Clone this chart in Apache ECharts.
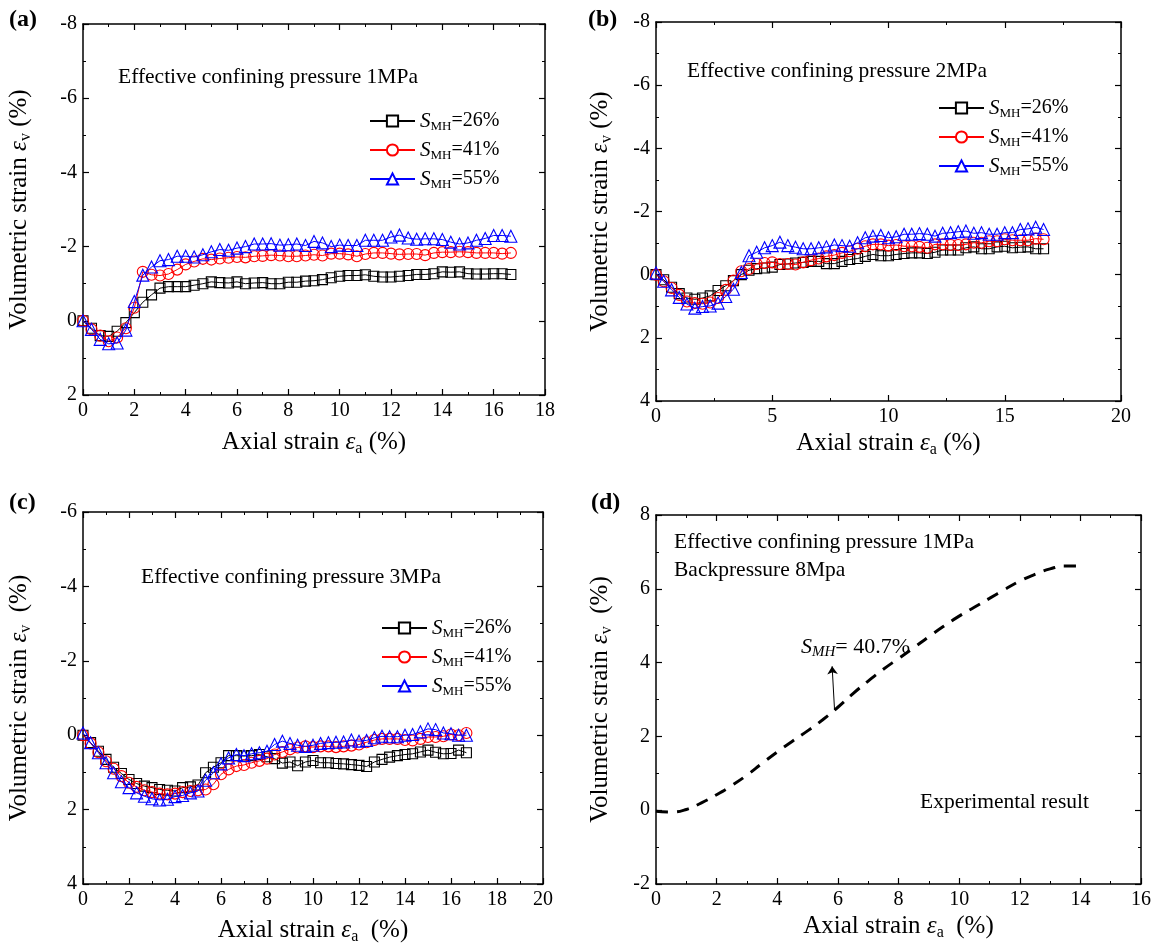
<!DOCTYPE html>
<html>
<head>
<meta charset="utf-8">
<script src="https://cdn.jsdelivr.net/npm/echarts@6.0.0/dist/echarts.min.js"></script>
<style>
html,body{margin:0;padding:0;background:#fff;}
#chart{width:1157px;height:948px;}
</style>
</head>
<body>
<div id="chart"></div>
<script>
// ---------------- DATA ----------------
// axial strain sample points (%) shared by panels a, b, c
const axialStrain = [0,0.33,0.67,1,1.33,1.67,2,2.33,2.67,3,3.33,3.67,4,4.33,4.67,5,5.33,5.67,6,6.33,6.67,7,7.33,7.67,8,8.33,8.67,9,9.33,9.67,10,10.33,10.67,11,11.33,11.67,12,12.33,12.67,13,13.33,13.67,14,14.33,14.67,15,15.33,15.67,16,16.33,16.67];

// Panel (a): effective confining pressure 1 MPa
const a_S26 = [0,0.2,0.4,0.42,0.28,0.05,-0.22,-0.5,-0.7,-0.88,-0.92,-0.92,-0.92,-0.96,-1.0,-1.05,-1.03,-1.02,-1.05,-1.0,-1.02,-1.03,-1.0,-1.0,-1.04,-1.04,-1.07,-1.08,-1.11,-1.16,-1.2,-1.22,-1.22,-1.24,-1.2,-1.18,-1.18,-1.2,-1.22,-1.25,-1.25,-1.27,-1.32,-1.31,-1.32,-1.27,-1.26,-1.26,-1.27,-1.27,-1.25];
const a_S41 = [0,0.23,0.4,0.55,0.45,0.2,-0.35,-1.32,-1.24,-1.22,-1.26,-1.38,-1.52,-1.6,-1.67,-1.65,-1.68,-1.7,-1.72,-1.71,-1.74,-1.75,-1.77,-1.76,-1.74,-1.74,-1.76,-1.78,-1.76,-1.81,-1.81,-1.79,-1.74,-1.8,-1.83,-1.83,-1.81,-1.79,-1.8,-1.8,-1.77,-1.83,-1.85,-1.85,-1.86,-1.85,-1.83,-1.83,-1.83,-1.81,-1.83];
const a_S55 = [0,0.23,0.5,0.62,0.6,0.25,-0.52,-1.23,-1.45,-1.62,-1.65,-1.74,-1.74,-1.72,-1.78,-1.86,-1.92,-1.9,-1.96,-2.0,-2.07,-2.07,-2.08,-2.04,-2.05,-2.07,-2.03,-2.14,-2.1,-2.0,-2.04,-2.03,-2.03,-2.17,-2.17,-2.17,-2.26,-2.31,-2.23,-2.2,-2.21,-2.21,-2.19,-2.12,-2.07,-2.1,-2.17,-2.22,-2.3,-2.3,-2.28];

// Panel (b): effective confining pressure 2 MPa
const b_S26 = [0,0.16,0.4,0.6,0.74,0.78,0.74,0.67,0.5,0.35,0.19,0,-0.14,-0.19,-0.21,-0.24,-0.32,-0.34,-0.37,-0.39,-0.42,-0.42,-0.35,-0.35,-0.42,-0.48,-0.51,-0.58,-0.64,-0.6,-0.6,-0.64,-0.67,-0.69,-0.69,-0.67,-0.71,-0.78,-0.78,-0.78,-0.85,-0.88,-0.82,-0.82,-0.88,-0.9,-0.85,-0.87,-0.88,-0.82,-0.82];
const b_S41 = [0,0.21,0.42,0.64,0.85,0.9,0.92,0.88,0.74,0.48,0.19,-0.11,-0.18,-0.34,-0.37,-0.39,-0.34,-0.34,-0.32,-0.39,-0.46,-0.51,-0.58,-0.62,-0.69,-0.74,-0.82,-0.9,-0.96,-0.96,-0.92,-0.94,-0.9,-0.9,-0.88,-0.85,-0.96,-0.96,-0.94,-0.94,-0.96,-1.01,-1.01,-1.06,-1.06,-1.12,-1.09,-1.09,-1.09,-1.14,-1.12];
const b_S55 = [-0.05,0.21,0.48,0.72,0.93,1.06,1.01,0.99,0.9,0.69,0.46,-0.07,-0.6,-0.71,-0.85,-0.92,-1.03,-0.92,-0.87,-0.82,-0.82,-0.85,-0.88,-0.94,-0.92,-0.9,-1.01,-1.17,-1.22,-1.24,-1.17,-1.2,-1.28,-1.28,-1.3,-1.28,-1.22,-1.31,-1.33,-1.36,-1.38,-1.31,-1.33,-1.28,-1.28,-1.33,-1.33,-1.43,-1.45,-1.5,-1.43];

// Panel (c): effective confining pressure 3 MPa
const c_S26 = [0,0.2,0.43,0.65,0.86,1.03,1.19,1.3,1.37,1.41,1.46,1.48,1.5,1.41,1.39,1.34,1.01,0.86,0.74,0.55,0.55,0.56,0.55,0.52,0.58,0.63,0.75,0.72,0.82,0.72,0.68,0.74,0.74,0.76,0.77,0.79,0.81,0.84,0.72,0.65,0.59,0.55,0.52,0.5,0.45,0.4,0.46,0.5,0.49,0.4,0.47];
const c_S41 = [0,0.22,0.46,0.7,0.9,1.1,1.28,1.39,1.48,1.53,1.57,1.59,1.57,1.53,1.5,1.48,1.46,1.32,1.05,0.92,0.83,0.8,0.74,0.69,0.63,0.52,0.45,0.38,0.33,0.3,0.32,0.3,0.3,0.32,0.3,0.28,0.25,0.19,0.13,0.1,0.1,0.1,0.13,0.14,0.1,0.05,0.05,0.03,-0.02,0,-0.06];
const c_S55 = [-0.06,0.2,0.47,0.74,1.01,1.25,1.41,1.55,1.64,1.71,1.74,1.72,1.65,1.62,1.55,1.5,1.21,1.01,0.77,0.61,0.52,0.55,0.5,0.47,0.43,0.25,0.16,0.22,0.27,0.3,0.27,0.22,0.2,0.19,0.18,0.13,0.16,0.14,0.07,0.03,0.04,0.04,0,-0.02,-0.09,-0.17,-0.15,-0.06,-0.04,0,0];

// Panel (d): experimental result, S_MH = 40.7 %
const d_axial = [0,0.5,1,1.5,2,2.5,3,3.5,4,4.5,5,5.5,6,6.5,7,7.5,8,8.5,9,9.5,10,10.5,11,11.5,12,12.5,13,13.5,14,14.1];
const d_volumetric = [-0.03,-0.05,0.02,0.2,0.42,0.67,0.95,1.27,1.58,1.87,2.15,2.45,2.79,3.16,3.5,3.82,4.11,4.4,4.7,4.99,5.26,5.5,5.74,5.98,6.21,6.39,6.54,6.62,6.62,6.62];

// Legend labels (saturation)
const saturationLabels = ['26%','41%','55%'];
// Panel texts
const panelLetters = ['(a)','(b)','(c)','(d)'];
const pressureTexts = ['Effective confining pressure 1MPa','Effective confining pressure 2MPa','Effective confining pressure 3MPa','Effective confining pressure 1MPa'];

// ---------------- STYLE / BUILD ----------------
const FONT = '"Liberation Serif","Times New Roman",serif';
const pairs = (xs, ys) => xs.map((x, i) => [x, ys[i]]);

const NAME_STYLE = {
  color:'#000', fontFamily:FONT, fontSize:25, lineHeight:30,
  rich:{
    t:{fontFamily:FONT, fontSize:25, color:'#000', lineHeight:30},
    e:{fontFamily:FONT, fontSize:25, color:'#000', fontStyle:'italic', lineHeight:30},
    s:{fontFamily:FONT, fontSize:16, color:'#000', verticalAlign:'bottom', lineHeight:12}
  }
};
const AXIS_LINE = {onZero:false, lineStyle:{color:'#000', width:1.5}};
const AXIS_TICK = {inside:true, length:6, lineStyle:{color:'#000', width:1.2}};
const MINOR_TICK = {show:true, splitNumber:2, length:3, lineStyle:{color:'#000', width:1}};

function makeX(gi, min, max, interval, name, nameGap){
  const base = {gridIndex:gi, type:'value', min, max, interval,
    axisLine:AXIS_LINE, axisTick:AXIS_TICK, minorTick:MINOR_TICK,
    splitLine:{show:false}, minorSplitLine:{show:false}};
  return [
    Object.assign({}, base, {position:'bottom',
      axisLabel:{color:'#000', fontFamily:FONT, fontSize:20, margin:6},
      name, nameLocation:'middle', nameGap, nameTextStyle:NAME_STYLE}),
    Object.assign({}, base, {position:'top', axisLabel:{show:false}})
  ];
}
function makeY(gi, min, max, interval, inverse, name, nameGap){
  const base = {gridIndex:gi, type:'value', min, max, interval, inverse,
    axisLine:AXIS_LINE, axisTick:AXIS_TICK, minorTick:MINOR_TICK,
    splitLine:{show:false}, minorSplitLine:{show:false}};
  return [
    Object.assign({}, base, {position:'left',
      axisLabel:{color:'#000', fontFamily:FONT, fontSize:20, margin:6},
      name, nameLocation:'middle', nameGap, nameTextStyle:NAME_STYLE}),
    Object.assign({}, base, {position:'right', axisLabel:{show:false}})
  ];
}

const grids = [
  {left:83, top:24, width:462, height:371},
  {left:656, top:22, width:465, height:379},
  {left:83, top:512, width:460, height:372},
  {left:656, top:515, width:485, height:369}
];

const yName1 = '{t|Volumetric strain }{e|ε}{s|v}{t| (%)}';
const yName2 = '{t|Volumetric strain }{e|ε}{s|v}{t|  (%)}';
const xName1 = '{t|Axial strain }{e|ε}{s|a}{t| (%)}';
const xName2 = '{t|Axial strain }{e|ε}{s|a}{t|  (%)}';

const xAxes = [].concat(
  makeX(0, 0, 18, 2, xName1, 32),
  makeX(1, 0, 20, 5, xName1, 27),
  makeX(2, 0, 20, 2, xName2, 31),
  makeX(3, 0, 16, 2, xName2, 27)
);
const yAxes = [].concat(
  makeY(0, -8, 2, 2, true, yName1, 49),
  makeY(1, -8, 4, 2, true, yName1, 41),
  makeY(2, -6, 4, 2, true, yName2, 49),
  makeY(3, -2, 8, 2, false, yName2, 41)
);

const MARKERS = [
  {symbol:'rect', size:10, color:'#000'},
  {symbol:'circle', size:11, color:'#ff0000'},
  {symbol:'triangle', size:12, color:'#0000ff'}
];
function scatterLine(name, gi, ys, k){
  const m = MARKERS[k];
  return {
    type:'line', name, xAxisIndex:gi*2, yAxisIndex:gi*2,
    data:pairs(axialStrain, ys),
    symbol:m.symbol, symbolSize:m.size, showAllSymbol:true,
    lineStyle:{color:m.color, width:1},
    itemStyle:{color:'rgba(255,255,255,0)', borderColor:m.color, borderWidth:1.1},
    emphasis:{disabled:true}, silent:true, z:2+k
  };
}

const series = [
  scatterLine('a26',0,a_S26,0), scatterLine('a41',0,a_S41,1), scatterLine('a55',0,a_S55,2),
  scatterLine('b26',1,b_S26,0), scatterLine('b41',1,b_S41,1), scatterLine('b55',1,b_S55,2),
  scatterLine('c26',2,c_S26,0), scatterLine('c41',2,c_S41,1), scatterLine('c55',2,c_S55,2),
  {
    type:'line', name:'exp', xAxisIndex:6, yAxisIndex:6,
    data:pairs(d_axial, d_volumetric), symbol:'none', smooth:true,
    lineStyle:{color:'#000', width:3, type:[12,9]},
    emphasis:{disabled:true}, silent:true,
    markLine:{
      silent:true, symbol:['none','arrow'], symbolSize:8, animation:false,
      label:{show:false},
      lineStyle:{color:'#000', width:1, type:'solid', curveness:0.25},
      data:[[{coord:[5.89,2.72]},{coord:[5.81,3.9]}]]
    }
  }
];

const LEG_TEXT = {
  color:'#000', fontFamily:FONT, fontSize:20, lineHeight:24,
  rich:{
    i:{fontFamily:FONT, fontSize:21, fontStyle:'italic', color:'#000', lineHeight:24},
    sub:{fontFamily:FONT, fontSize:13, color:'#000', verticalAlign:'bottom', lineHeight:12},
    n:{fontFamily:FONT, fontSize:20, color:'#000', lineHeight:24}
  }
};
function makeLegend(prefix, left, top){
  return {
    data:[prefix+'26', prefix+'41', prefix+'55'],
    orient:'vertical', left, top, padding:0, itemGap:5,
    itemWidth:45, itemHeight:14, selectedMode:false,
    itemStyle:{color:'#fff'},
    textStyle:LEG_TEXT,
    formatter:(nm)=>{
      const idx = ['26','41','55'].indexOf(nm.slice(1));
      return '{i|S}{sub|MH}{n|=' + saturationLabels[idx] + '}';
    }
  };
}

function txt(x, y, text, size, bold){
  return {type:'text', x, y, silent:true, style:{
    text, fill:'#000', fontFamily:FONT, fontSize:size, fontWeight:bold ? 'bold' : 'normal',
    verticalAlign:'middle', align:'left'
  }};
}
const graphic = [
  txt(9, 20, panelLetters[0], 24, true),
  txt(588, 20, panelLetters[1], 24, true),
  txt(9, 503, panelLetters[2], 24, true),
  txt(591, 503, panelLetters[3], 24, true),
  txt(118, 77, pressureTexts[0], 21.5),
  txt(687, 71, pressureTexts[1], 21.5),
  txt(141, 577, pressureTexts[2], 21.5),
  txt(674, 542, pressureTexts[3], 21.5),
  txt(674, 570, 'Backpressure 8Mpa', 21.5),
  txt(920, 802, 'Experimental result', 21.5),
  {type:'text', x:801, y:647, silent:true, style:{
    text:'{s|S}{m|MH}{n|= 40.7%}', fill:'#000', fontFamily:FONT, fontSize:22, verticalAlign:'middle',
    rich:{
      s:{fontFamily:FONT, fontSize:22, fontStyle:'italic', fill:'#000', lineHeight:26},
      m:{fontFamily:FONT, fontSize:15, fontStyle:'italic', fill:'#000', verticalAlign:'bottom', lineHeight:14},
      n:{fontFamily:FONT, fontSize:22, fill:'#000', lineHeight:26}
    }
  }}
];

const chart = echarts.init(document.getElementById('chart'), null, {renderer:'canvas'});
chart.setOption({
  animation:false,
  backgroundColor:'#fff',
  grid:grids,
  xAxis:xAxes,
  yAxis:yAxes,
  legend:[makeLegend('a',369,109), makeLegend('b',938,96), makeLegend('c',381,616)],
  series,
  graphic
});
</script>
</body>
</html>
